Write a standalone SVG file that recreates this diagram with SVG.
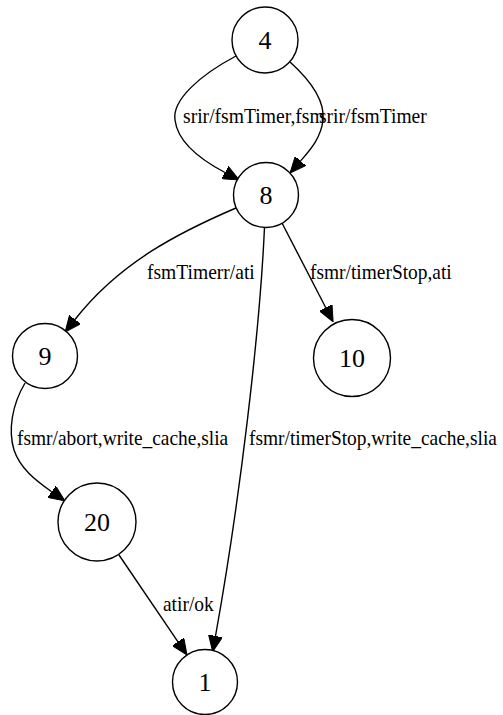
<svg xmlns="http://www.w3.org/2000/svg" width="503" height="715" viewBox="0 0 503 715">
<defs>
<marker id="arr" viewBox="0 0 16 14" refX="0" refY="7" markerWidth="16" markerHeight="14" markerUnits="userSpaceOnUse" orient="auto">
<path d="M0,0 L16,7 L0,14 z" fill="#000" stroke="#000" stroke-width="1"/>
</marker>
</defs>
<style>
.node circle{fill:#fff;stroke:#000;stroke-width:1.4}
.node text{font-family:"Liberation Serif","Times New Roman",serif;font-size:26px;text-anchor:middle;fill:#000}
.edge path{fill:none;stroke:#000;stroke-width:1.4;marker-end:url(#arr)}
.lbl{font-family:"Liberation Serif","Times New Roman",serif;font-size:21px;fill:#000}
</style>
<rect width="503" height="715" fill="#fff"/>
<g id="edges">
<g class="edge" id="e4_8a"><path d="M236,56 C200,75 172,100 175,120 C178,145 205,162 225,172.5"/><text class="lbl" x="183" y="123" textLength="141.7" lengthAdjust="spacingAndGlyphs">srir/fsmTimer,fsm</text></g>
<g class="edge" id="e4_8b"><path d="M290,62 C310,80 325,100 323,120 C321,138 310,150 300.5,161"/><text class="lbl" x="319" y="123" textLength="107.8" lengthAdjust="spacingAndGlyphs">srir/fsmTimer</text></g>
<g class="edge" id="e8_9"><path d="M236,208 C180,232 120,262 75,319.5"/><text class="lbl" x="147" y="279" textLength="107.8" lengthAdjust="spacingAndGlyphs">fsmTimerr/ati</text></g>
<g class="edge" id="e8_10"><path d="M282,223 L325.8,307.7"/><text class="lbl" x="310" y="279" textLength="141.7" lengthAdjust="spacingAndGlyphs">fsmr/timerStop,ati</text></g>
<g class="edge" id="e8_1"><path d="M264.5,227 C260,330 240,500 215.5,636"/><text class="lbl" x="249" y="445" textLength="247.9" lengthAdjust="spacingAndGlyphs">fsmr/timerStop,write_cache,slia</text></g>
<g class="edge" id="e9_20"><path d="M25,383 C12,405 8,430 14,450 C20,468 35,480 51.7,491.7"/><text class="lbl" x="17" y="445" textLength="211.2" lengthAdjust="spacingAndGlyphs">fsmr/abort,write_cache,slia</text></g>
<g class="edge" id="e20_1"><path d="M119,555 L178,641.8"/><text class="lbl" x="163" y="611" textLength="50.7" lengthAdjust="spacingAndGlyphs">atir/ok</text></g>
</g>
<g id="n4" class="node"><circle cx="265" cy="40" r="33"/><text x="265" y="49">4</text></g>
<g id="n8" class="node"><circle cx="266" cy="195" r="32.5"/><text x="266" y="204">8</text></g>
<g id="n9" class="node"><circle cx="45" cy="356" r="32.5"/><text x="45" y="365">9</text></g>
<g id="n10" class="node"><circle cx="352" cy="358" r="38.5"/><text x="352" y="367">10</text></g>
<g id="n20" class="node"><circle cx="97" cy="522" r="39"/><text x="97" y="531">20</text></g>
<g id="n1" class="node"><circle cx="205" cy="682" r="32.5"/><text x="205" y="691">1</text></g>
</svg>
